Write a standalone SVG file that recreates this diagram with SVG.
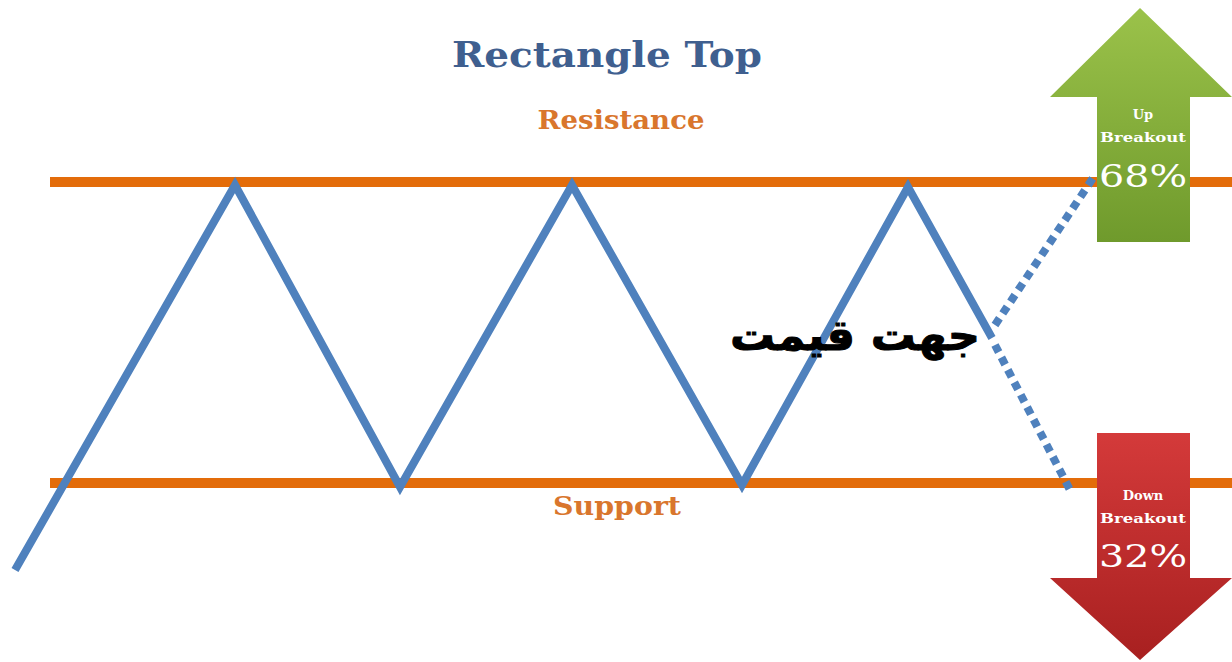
<svg xmlns="http://www.w3.org/2000/svg" width="1232" height="662" viewBox="0 0 1232 662">
<defs>
<linearGradient id="gUp" x1="0" y1="0" x2="0" y2="1">
<stop offset="0" stop-color="#9bc24a"/><stop offset="1" stop-color="#6f9a2c"/>
</linearGradient>
<linearGradient id="gDown" x1="0" y1="0" x2="0" y2="1">
<stop offset="0" stop-color="#d43a3a"/><stop offset="1" stop-color="#a82020"/>
</linearGradient>
<style>
.lvl{stroke:#e36c0a;stroke-width:10;fill:none}
.price{stroke:#4f81bd;stroke-width:8;fill:none;stroke-linejoin:miter}
.dot{stroke:#4f81bd;stroke-width:8;fill:none;stroke-dasharray:8 6}
.ttl{font-family:"DejaVu Serif","Liberation Serif",serif;font-weight:bold;text-anchor:middle}
.arr{font-family:"DejaVu Serif","Liberation Serif",serif;font-weight:bold;text-anchor:middle;fill:#fff}
.pct{font-family:"DejaVu Serif","Liberation Serif",serif;text-anchor:middle;fill:#fff}
</style>
</defs>
<rect width="1232" height="662" fill="#fff"/>
<g id="levels">
<line class="lvl" x1="50" y1="182" x2="1232" y2="182"/>
<line class="lvl" x1="50" y1="483" x2="1232" y2="483"/>
</g>
<g id="up-arrow">
<polygon points="1140,8 1232,97 1190,97 1190,242 1097,242 1097,97 1050,97" fill="url(#gUp)"/>
<text class="arr" x="1143" y="119" font-size="13">Up</text>
<text class="arr" x="1143" y="142" font-size="13" textLength="86" lengthAdjust="spacingAndGlyphs">Breakout</text>
<text class="pct" x="1143" y="187" font-size="32" textLength="88" lengthAdjust="spacingAndGlyphs">68%</text>
</g>
<g id="down-arrow">
<polygon points="1097,433 1190,433 1190,578 1232,578 1140,660 1050,578 1097,578" fill="url(#gDown)"/>
<text class="arr" x="1143" y="500" font-size="13">Down</text>
<text class="arr" x="1143" y="523" font-size="13" textLength="86" lengthAdjust="spacingAndGlyphs">Breakout</text>
<text class="pct" x="1143" y="567" font-size="32" textLength="88" lengthAdjust="spacingAndGlyphs">32%</text>
</g>
<g id="connectors">
<polyline class="price" points="15,570 235,185 400,487 572,185 742,485 908,187 992,338"/>
<line class="dot" x1="995" y1="325" x2="1093" y2="178"/>
<line class="dot" x1="995" y1="345" x2="1070" y2="490"/>
</g>
<g id="labels">
<text class="ttl" x="607" y="67" font-size="36" fill="#3f5f8f" textLength="310" lengthAdjust="spacingAndGlyphs">Rectangle Top</text>
<text class="ttl" x="621" y="129" font-size="26" fill="#d9762d" textLength="167" lengthAdjust="spacingAndGlyphs">Resistance</text>
<text class="ttl" x="617" y="515" font-size="26" fill="#d9762d" textLength="128" lengthAdjust="spacingAndGlyphs">Support</text>
<text x="855" y="350" font-size="42" font-weight="bold" text-anchor="middle" direction="rtl" font-family="'DejaVu Sans',sans-serif" fill="#000" stroke="#000" stroke-width="1" textLength="250" lengthAdjust="spacingAndGlyphs">جهت قیمت</text>
</g>
</svg>
